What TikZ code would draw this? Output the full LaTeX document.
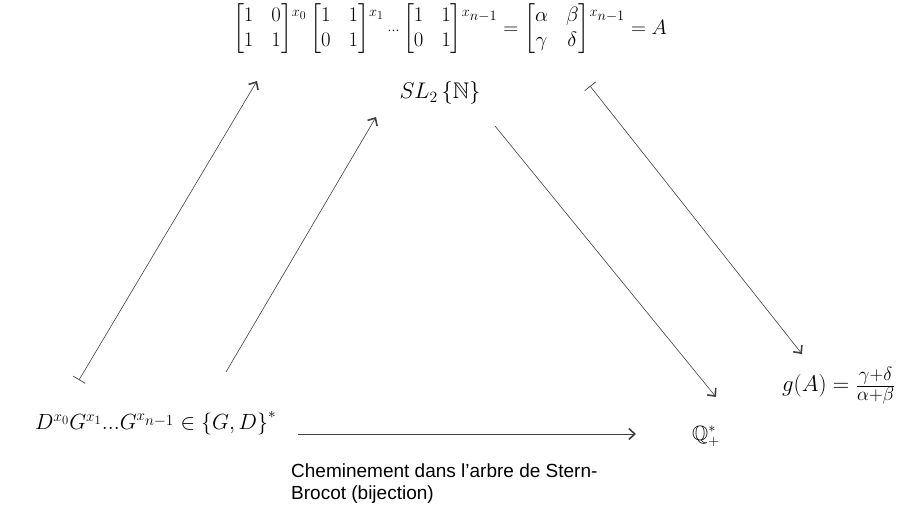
\documentclass[tikz,border=0pt]{standalone}
\usepackage{amsmath,amssymb}
\usepackage{graphicx}
\usepackage{fontspec}
\newfontfamily\capfont{Liberation Sans}
\usetikzlibrary{arrows.meta}
\newcommand\mexp[1]{^{\raisebox{-7pt}{$\scriptstyle #1$}}}
\newcommand\fracpart[1]{\mbox{\fontsize{17.28}{21}\selectfont$#1$}}
\begin{document}
\begin{tikzpicture}[x=1pt,y=-1pt,
  conn/.style={draw=black!75,line width=0.6pt},
  tipA/.style={-{Straight Barb[length=6pt,width=11pt,line width=1.6pt]}},
  tipB/.style={{Bar[width=14pt,line width=0.7pt]}-{Straight Barb[length=6pt,width=11pt,line width=1.6pt]}},
  mth/.style={inner sep=0pt,font=\fontsize{20.74}{25}\selectfont}]
\useasboundingbox (0,0) rectangle (904,508);
\node[mth] (top) at (450,29) {\setlength{\arraycolsep}{9pt}$\begin{bmatrix}1&0\\1&1\end{bmatrix}\mexp{x_0}\begin{bmatrix}1&1\\0&1\end{bmatrix}\mexp{x_1}{\scriptstyle\cdots}\begin{bmatrix}1&1\\0&1\end{bmatrix}\mexp{x_{\scriptstyle n-1}}=\begin{bmatrix}\alpha&\beta\\\gamma&\delta\end{bmatrix}\mexp{x_{\scriptstyle n-1}}=A$};
\node[mth] (sl) at (440,93) {\scalebox{1.09}{$SL_2\left\{\mathbb{N}\right\}$}};
\node[mth,anchor=west] (word) at (35,423) {\scalebox{1.056}{$D^{x_0}G^{x_1}...G^{x_{\scriptstyle n-1}}\in\left\{G,D\right\}^*$}};
\node[mth] (q) at (706,436) {$\mathbb{Q}_+^*$};
\node[mth,anchor=west] (g) at (782,386) {\scalebox{1.1}{$g(A)=\frac{\fracpart{\gamma{+}\delta}}{\fracpart{\alpha{+}\beta}}$}};
\node[anchor=north west,inner sep=0pt,align=left,font=\capfont\fontsize{19}{22}\selectfont] (cap) at (291,464) {Cheminement dans l’arbre de Stern-\\Brocot (bijection)};
\coordinate (a1s) at (79,380);
\coordinate (a1e) at (257,81);
\coordinate (a2s) at (226,372);
\coordinate (a2e) at (376,117);
\coordinate (a3s) at (495,126);
\coordinate (a3e) at (716,397);
\coordinate (a4s) at (590,86);
\coordinate (a4e) at (802,354);
\coordinate (a5s) at (298,434);
\coordinate (a5e) at (636,434);
\draw[conn,tipB] (a1s) -- (a1e);
\draw[conn,tipA] (a2s) -- (a2e);
\draw[conn,tipA] (a3s) -- (a3e);
\draw[conn,tipB] (a4s) -- (a4e);
\draw[conn,tipA] (a5s) -- (a5e);
\end{tikzpicture}
\end{document}
